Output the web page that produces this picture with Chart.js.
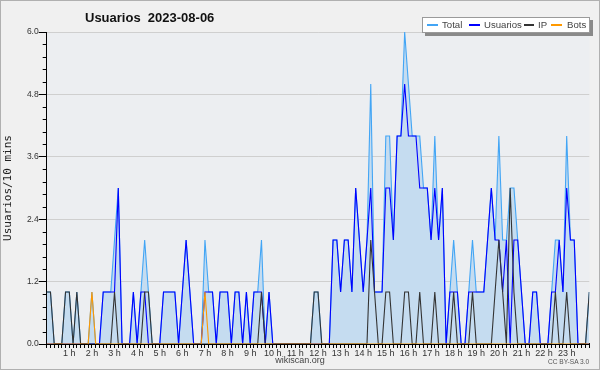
<!DOCTYPE html>
<html>
<head>
<meta charset="utf-8">
<script src="https://cdn.jsdelivr.net/npm/chart.js@4.4.1/dist/chart.umd.min.js"></script>
<style>
html,body{margin:0;padding:0;background:#f0f0f0;}
#wrap{position:relative;width:600px;height:370px;overflow:hidden;background:#f0f0f0;}
#c{position:absolute;left:0;top:0;}
.t{position:absolute;white-space:pre;font-family:"Liberation Sans",Arial,sans-serif;}
#title{left:85px;top:11px;font-weight:bold;font-size:13px;line-height:13px;color:#111;}
#legbox{position:absolute;left:422px;top:17px;width:166px;height:14px;background:#fff;border:1px solid #9a9a9a;box-shadow:3px 3px 0 #8a8a8a;}
.ll{position:absolute;top:24px;height:2px;}
.lt{top:19.5px;font-size:9.6px;line-height:10px;color:#444;}
#foot1{left:0;width:600px;text-align:center;top:356px;font-size:9px;line-height:9px;color:#444;}
#foot2{left:548px;top:358.7px;font-size:6.6px;line-height:6.6px;color:#555;}
#frame{position:absolute;left:0;top:0;width:600px;height:370px;box-sizing:border-box;border:1px solid #b0b0b0;pointer-events:none;}
</style>
</head>
<body>
<div id="wrap">
  <canvas id="c" width="600" height="370"></canvas>
  <div class="t" id="title">Usuarios  2023-08-06</div>
  <div id="legbox"></div>
  <div class="ll" style="left:427px;width:11px;background:#42a5f5;"></div>
  <div class="t lt" style="left:442px;">Total</div>
  <div class="ll" style="left:469px;width:11px;background:#0000ff;"></div>
  <div class="t lt" style="left:484px;">Usuarios</div>
  <div class="ll" style="left:524px;width:10px;background:#333333;"></div>
  <div class="t lt" style="left:538px;">IP</div>
  <div class="ll" style="left:551px;width:11px;background:#ff9900;"></div>
  <div class="t lt" style="left:567px;">Bots</div>
  <div class="t" id="foot1">wikiscan.org</div>
  <div class="t" id="foot2">CC BY-SA 3.0</div>
  <div id="frame"></div>
</div>
<script>
// 10-minute slots, 00:00 .. 24:00 (145 values)
const hourLabels = ['1 h','2 h','3 h','4 h','5 h','6 h','7 h','8 h','9 h','10 h','11 h','12 h',
  '13 h','14 h','15 h','16 h','17 h','18 h','19 h','20 h','21 h','22 h','23 h'];
const yTickLabels = ['0.0','1.2','2.4','3.6','4.8','6.0'];

const total = [
 1,1,0,0,0,1,1,0,1,0,0,0,
 1,0,0,1,1,1,2,3,0,0,0,1,
 0,1,2,1,0,0,0,1,1,1,1,0,
 1,2,1,0,0,0,2,1,1,0,1,1,
 1,0,1,1,0,1,0,1,1,2,0,1,
 0,0,0,0,0,0,0,0,0,0,0,1,
 1,0,0,0,2,2,1,2,2,1,3,2,
 1,2,5,1,1,1,4,4,2,4,4,6,
 5,4,4,4,3,3,2,4,2,3,0,1,
 2,1,0,0,1,2,1,1,1,2,3,2,
 4,2,2,3,3,2,1,0,0,1,1,0,
 0,0,1,2,2,1,4,2,2,0,0,0,
 1];
const usuarios = [
 0,0,0,0,0,0,0,0,0,0,0,0,
 0,0,0,1,1,1,1,3,0,0,0,1,
 0,1,1,0,0,0,0,1,1,1,1,0,
 1,2,1,0,0,0,1,1,1,0,1,1,
 1,0,1,1,0,1,0,1,1,1,0,1,
 0,0,0,0,0,0,0,0,0,0,0,0,
 0,0,0,0,2,2,1,2,2,1,3,2,
 1,2,3,1,1,1,3,3,2,4,4,5,
 4,4,4,3,3,3,2,3,2,3,0,1,
 1,1,0,0,1,1,1,1,1,2,3,2,
 2,1,2,0,2,2,1,0,0,1,1,0,
 0,0,1,1,2,1,3,2,2,0,0,0,
 0];
const ip = [
 1,1,0,0,0,1,1,0,1,0,0,0,
 0,0,0,0,0,0,1,0,0,0,0,0,
 0,0,1,1,0,0,0,0,0,0,0,0,
 0,0,0,0,0,0,0,0,0,0,0,0,
 0,0,0,0,0,0,0,0,0,1,0,0,
 0,0,0,0,0,0,0,0,0,0,0,1,
 1,0,0,0,0,0,0,0,0,0,0,0,
 0,0,2,1,0,0,1,1,0,0,0,1,
 1,0,0,1,0,0,0,1,0,0,0,0,
 1,0,0,0,0,1,0,0,0,0,0,1,
 2,1,0,3,1,0,0,0,0,0,0,0,
 0,0,0,1,0,0,1,0,0,0,0,0,
 1];
const bots = [
 0,0,0,0,0,0,0,0,0,0,0,0,
 1,0,0,0,0,0,0,0,0,0,0,0,
 0,0,0,0,0,0,0,0,0,0,0,0,
 0,0,0,0,0,0,1,0,0,0,0,0,
 0,0,0,0,0,0,0,0,0,0,0,0,
 0,0,0,0,0,0,0,0,0,0,0,0,
 0,0,0,0,0,0,0,0,0,0,0,0,
 0,0,0,0,0,0,0,0,0,0,0,0,
 0,0,0,0,0,0,0,0,0,0,0,0,
 0,0,0,0,0,0,0,0,0,0,0,0,
 0,0,0,0,0,0,0,0,0,0,0,0,
 0,0,0,0,0,0,0,0,0,0,0,0,
 0];

const pts = arr => arr.map((v, i) => ({x: i, y: v}));
const isMajor = v => Math.abs(v / 1.2 - Math.round(v / 1.2)) < 1e-6;

const plotBg = {
  id: 'plotBg',
  beforeDraw(chart) {
    const {ctx, chartArea: a} = chart;
    ctx.save();
    ctx.fillStyle = '#eceef1';
    ctx.fillRect(a.left, a.top, a.right - a.left, a.bottom - a.top);
    ctx.restore();
  }
};
const minorTicks = {
  id: 'minorTicks',
  afterDraw(chart) {
    const s = chart.scales.y, ctx = chart.ctx;
    ctx.save();
    ctx.strokeStyle = '#000';
    ctx.lineWidth = 1;
    s.ticks.forEach(t => {
      if (isMajor(t.value)) return;
      const y = Math.round(s.getPixelForValue(t.value)) + 0.5;
      ctx.beginPath();
      ctx.moveTo(s.right - 4, y);
      ctx.lineTo(s.right, y);
      ctx.stroke();
    });
    ctx.restore();
  }
};

Chart.defaults.font.family = '"Liberation Sans", Arial, sans-serif';

new Chart(document.getElementById('c'), {
  type: 'line',
  data: {
    datasets: [
      {label: 'Bots', data: pts(bots), borderColor: '#ff9900', borderWidth: 1.1, pointRadius: 0, fill: false, order: 1},
      {label: 'IP', data: pts(ip), borderColor: '#333333', borderWidth: 1.1, pointRadius: 0, fill: false, order: 2},
      {label: 'Usuarios', data: pts(usuarios), borderColor: '#0000ff', borderWidth: 1.1, pointRadius: 0, fill: false, order: 3},
      {label: 'Total', data: pts(total), borderColor: '#42a5f5', backgroundColor: '#c5dcf0', borderWidth: 1.1, pointRadius: 0, fill: 'origin', order: 4}
    ]
  },
  options: {
    responsive: false,
    animation: false,
    devicePixelRatio: 1,
    events: [],
    layout: {padding: {left: 0, right: 10.7, top: 32, bottom: 0}},
    plugins: {legend: {display: false}, tooltip: {enabled: false}, title: {display: false}},
    elements: {line: {tension: 0}},
    scales: {
      x: {
        type: 'linear', min: 0, max: 144, z: 1,
        afterFit(s) { s.height = 26; },
        grid: {drawOnChartArea: false, drawTicks: true, tickLength: 4, tickColor: '#000', tickWidth: 1},
        border: {display: true, color: '#000', width: 2},
        ticks: {
          stepSize: 1, autoSkip: false, maxRotation: 0, minRotation: 0, padding: 0,
          color: '#333', font: {size: 9},
          callback: v => (v % 6 === 0 && v > 0 && v < 144) ? hourLabels[v / 6 - 1] : ''
        }
      },
      y: {
        min: 0, max: 6,
        afterFit(s) { s.width = 46.7; },
        grid: {
          drawOnChartArea: true, drawTicks: true, tickLength: 8,
          color: ctx => (ctx.tick && isMajor(ctx.tick.value) && ctx.tick.value > 0) ? '#cfcfcf' : 'rgba(0,0,0,0)',
          tickColor: ctx => (ctx.tick && isMajor(ctx.tick.value)) ? '#000' : 'rgba(0,0,0,0)'
        },
        border: {display: true, color: '#000', width: 1},
        ticks: {
          stepSize: 0.24, autoSkip: false, padding: 0, color: '#333', font: {size: 8.5},
          callback: v => isMajor(v) ? yTickLabels[Math.round(v / 1.2)] : ''
        },
        title: {display: true, text: 'Usuarios/10 mins', color: '#222',
          font: {family: '"DejaVu Sans Mono", monospace', size: 11}, padding: {top: 2, bottom: 0}}
      }
    }
  },
  plugins: [plotBg, minorTicks]
});
</script>
</body>
</html>
